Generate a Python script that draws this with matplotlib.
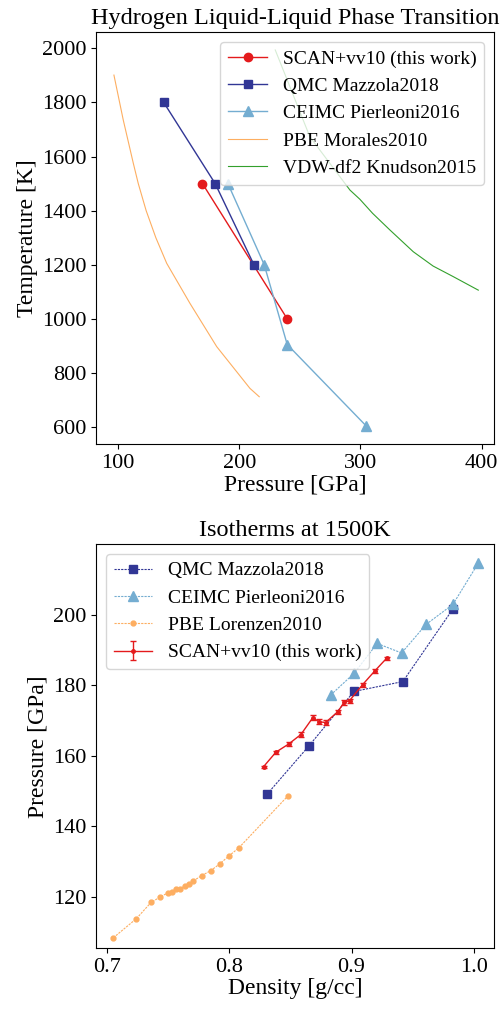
import matplotlib
matplotlib.use("Agg")
import matplotlib.pyplot as plt

plt.rcParams['font.family'] = ['Liberation Serif', 'DejaVu Serif']
plt.rcParams['mathtext.fontset'] = 'stix'

# ---- Top panel data: phase transition lines (P [GPa], T [K]) ----
scan_P = [169.5, 239.5]
scan_T = [1500, 1000]
qmc_P = [137.5, 180.0, 212.0]
qmc_T = [1800, 1500, 1200]
ceimc_P = [190.5, 220.5, 239.5, 304.5]
ceimc_T = [1500, 1200, 905, 605]
pbe_P = [96.4, 104.1, 112.4, 116.5, 123.0, 131.0, 140.0, 159.2, 181.3, 208.7, 216.4]
pbe_T = [1901, 1735, 1575, 1500, 1400, 1300, 1205, 1057, 897, 743, 712]
vdw_P = [229.6, 258.2, 291.3, 299.5, 310.0, 324.4, 343.6, 360.0, 376.6, 397.3]
vdw_T = [1994, 1673, 1476, 1442, 1390, 1328, 1248, 1195, 1156, 1106]

# ---- Bottom panel data: isotherms at 1500 K (density [g/cc], P [GPa]) ----
qmc_rho = [0.831, 0.865, 0.902, 0.942, 0.983]
qmc_iso = [149.1, 162.7, 178.2, 181.0, 201.6]
ceimc_rho = [0.883, 0.902, 0.921, 0.941, 0.961, 0.983, 1.0036]
ceimc_iso = [177.2, 183.3, 191.8, 189.1, 197.2, 202.9, 214.5]
pbe_rho = [0.7052, 0.724, 0.736, 0.7433, 0.7496, 0.7531, 0.7564, 0.760, 0.7635,
           0.7668, 0.7706, 0.7774, 0.7848, 0.7921, 0.7998, 0.8079, 0.848]
pbe_iso = [108.4, 113.8, 118.4, 119.9, 121.1, 121.3, 122.3, 122.3, 123.1,
           123.7, 124.5, 126.0, 127.4, 129.3, 131.6, 133.9, 148.6]
scan_rho = [0.8281, 0.8382, 0.8486, 0.8586, 0.8682, 0.8736, 0.8788, 0.8886,
            0.894, 0.8984, 0.909, 0.919, 0.9287]
scan_iso = [156.9, 161.0, 163.3, 166.0, 170.7, 169.6, 169.4, 172.4,
            175.1, 175.6, 180.1, 184.0, 187.6]
scan_err = [0.3, 0.4, 0.6, 0.6, 0.7, 0.7, 0.6, 0.6, 0.6, 0.6, 0.6, 0.5, 0.4]

c_red = '#e41a1c'
c_navy = '#313695'
c_lblue = '#74add1'
c_orange = '#fdae61'
c_green = '#33a02c'

fig = plt.figure(figsize=(5.04, 10.11), dpi=100)

# ---------------- Top panel ----------------
ax1 = fig.add_axes([0.1905, 0.5605, 0.7895, 0.4075])
ax1.plot(scan_P, scan_T, '-o', color=c_red, lw=1, ms=6, label='SCAN+vv10 (this work)')
ax1.plot(qmc_P, qmc_T, '-s', color=c_navy, lw=1, ms=6, label='QMC Mazzola2018')
ax1.plot(ceimc_P, ceimc_T, '-^', color=c_lblue, lw=1, ms=6.5, label='CEIMC Pierleoni2016')
ax1.plot(pbe_P, pbe_T, '-', color=c_orange, lw=0.8, label='PBE Morales2010')
ax1.plot(vdw_P, vdw_T, '-', color=c_green, lw=0.8, label='VDW-df2 Knudson2015')
ax1.set_xlim(81.6, 410.2)
ax1.set_ylim(536, 2059)
ax1.set_xticks([100, 200, 300, 400])
ax1.set_yticks([600, 800, 1000, 1200, 1400, 1600, 1800, 2000])
ax1.tick_params(labelsize=16)
ax1.set_xlabel('Pressure [GPa]', fontsize=17, labelpad=1)
ax1.set_ylabel('Temperature [K]', fontsize=17, labelpad=3)
ax1.set_title('Hydrogen Liquid-Liquid Phase Transition', fontsize=17.5)
ax1.legend(loc='upper right', fontsize=14, handlelength=2.0)

# ---------------- Bottom panel ----------------
dash = (0, (2, 1))
ax2 = fig.add_axes([0.1905, 0.062, 0.7895, 0.3996])
ax2.plot(qmc_rho, qmc_iso, marker='s', linestyle=dash, color=c_navy, lw=0.8, ms=6,
         label='QMC Mazzola2018')
ax2.plot(ceimc_rho, ceimc_iso, marker='^', linestyle=dash, color=c_lblue, lw=0.8, ms=6.5,
         label='CEIMC Pierleoni2016')
ax2.plot(pbe_rho, pbe_iso, marker='o', linestyle=dash, color=c_orange, lw=0.8, ms=3.5,
         label='PBE Lorenzen2010')
ax2.errorbar(scan_rho, scan_iso, yerr=scan_err, fmt='-o', color=c_red, lw=1, ms=2.5,
             capsize=2, elinewidth=1, label='SCAN+vv10 (this work)')
ax2.set_xlim(0.691, 1.0165)
ax2.set_ylim(105.4, 219.9)
ax2.set_xticks([0.7, 0.8, 0.9, 1.0])
ax2.set_yticks([120, 140, 160, 180, 200])
ax2.tick_params(labelsize=16)
ax2.set_xlabel('Density [g/cc]', fontsize=17, labelpad=1)
ax2.set_ylabel('Pressure [GPa]', fontsize=17, labelpad=3)
ax2.set_title('Isotherms at 1500K', fontsize=17.5)
ax2.legend(loc='upper left', fontsize=14, handlelength=2.0)

fig.savefig('out.png', dpi=100)
